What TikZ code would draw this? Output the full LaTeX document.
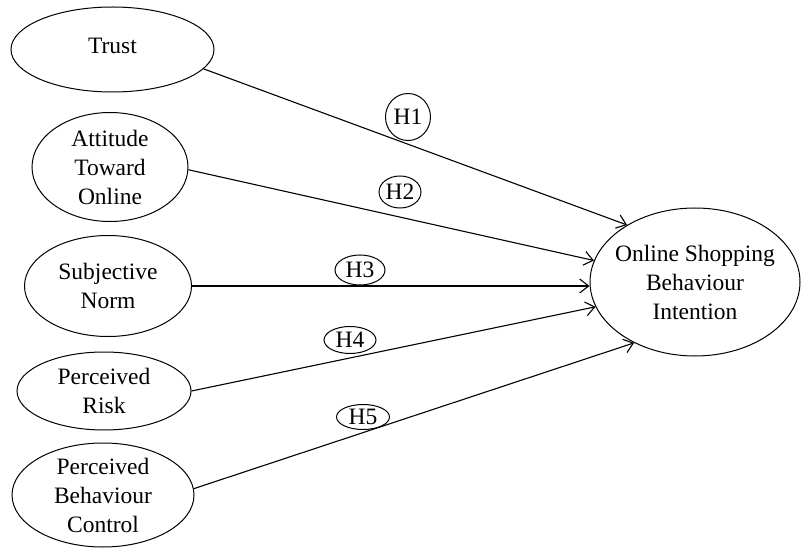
\documentclass[tikz,border=0pt]{standalone}
\usepackage{fontspec}
\setmainfont{Liberation Serif}
\usetikzlibrary{shapes.geometric,arrows.meta}
\begin{document}
\begin{tikzpicture}[x=1pt,y=-1pt,
  every node/.style={font=\fontsize{23.5}{29}\selectfont},
  construct/.style={ellipse,draw,line width=1pt,inner sep=0pt},
  hyp/.style={ellipse,draw,line width=1pt,inner sep=0pt},
  link/.style={draw,line width=1.1pt,-{Straight Barb[length=9pt,width=14pt]}}
]
\useasboundingbox (0,0) rectangle (801,548);
\node[construct,minimum width=203pt,minimum height=85pt,
  label={[yshift=4pt]center:Trust}] (trust) at (112.5,49.5) {};
\node[construct,minimum width=156pt,minimum height=109pt,
  label={[align=center]center:{Attitude\\Toward\\Online}}] (att) at (110,167) {};
\node[construct,minimum width=167pt,minimum height=101pt,
  label={[align=center]center:{Subjective\\Norm}}] (subj) at (108,286) {};
\node[construct,minimum width=174pt,minimum height=78pt,
  label={[align=center]center:{Perceived\\Risk}}] (risk) at (104,391) {};
\node[construct,minimum width=182pt,minimum height=104pt,
  label={[align=center]center:{Perceived\\Behaviour\\Control}}] (pbc) at (103,495) {};
\node[construct,minimum width=210pt,minimum height=148pt,
  label={[align=center]center:{Online Shopping\\Behaviour\\Intention}}] (tgt) at (695,282) {};

\draw[link] (trust.-12.5) -- (tgt.140);
\draw[link] (att.-2) -- (tgt.168);
\draw[link] (subj.east) -- (subj.east -| tgt.west);
\draw[link] (risk.east) -- (tgt.194);
\draw[link] (pbc.4) -- (tgt.225);

\node[hyp,minimum width=45pt,minimum height=47pt] (h1) at (408,117) {H1};
\node[hyp,minimum width=42pt,minimum height=32pt] (h2) at (400,192) {H2};
\node[hyp,minimum width=50pt,minimum height=30pt] (h3) at (360,270) {H3};
\node[hyp,minimum width=52pt,minimum height=27pt] (h4) at (350,340) {H4};
\node[hyp,minimum width=53pt,minimum height=25pt] (h5) at (363,417) {H5};
\end{tikzpicture}
\end{document}
